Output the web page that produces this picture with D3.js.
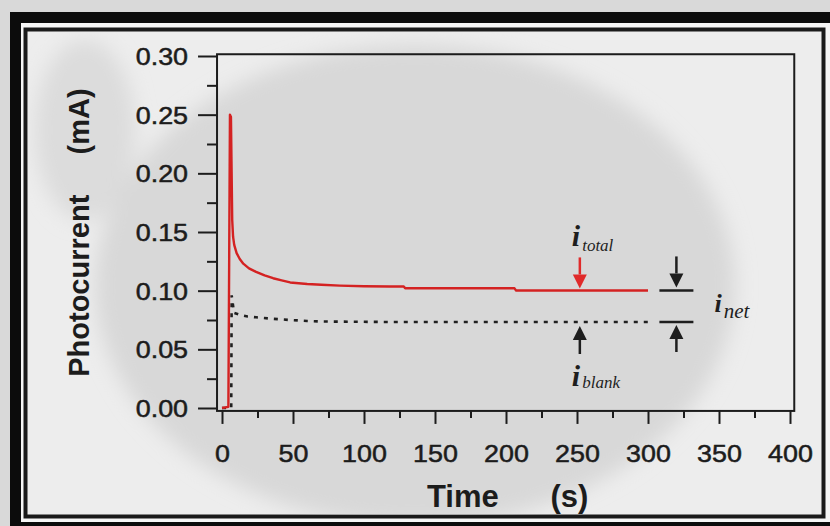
<!DOCTYPE html>
<html>
<head>
<meta charset="utf-8">
<script src="https://cdn.jsdelivr.net/npm/d3@7"></script>
<style>
  body { margin: 0; background: #d9d9d9; }
  svg { display: block; }
</style>
</head>
<body>
<div id="chart"></div>
<script>
// tick values
const xTicks = [0, 50, 100, 150, 200, 250, 300, 350, 400];
const xMinor = [25, 75, 125, 175, 225, 275, 325, 375];
const yTicks = [0, 0.05, 0.10, 0.15, 0.20, 0.25, 0.30];
const yMinor = [0.025, 0.075, 0.125, 0.175, 0.225, 0.275];

// i_total (red)
const totalT = [0, 4.5, 5.6, 6.3, 7.2, 7.8, 8.6, 10.3, 12.5, 15, 19, 24, 30, 36, 42, 48, 54, 60, 70, 83, 100, 118, 128, 129, 206, 207, 300];
const totalI = [0, 0.001, 0.25, 0.248, 0.16, 0.146, 0.139, 0.132, 0.127, 0.123, 0.119, 0.116, 0.113, 0.1106, 0.1088, 0.107, 0.1063, 0.1057, 0.105, 0.1043, 0.1038, 0.1036, 0.1036, 0.102, 0.102, 0.1002, 0.1002];

// i_blank (black dotted)
const blankT = [0, 6.5, 6.8, 8.5, 12.7, 18, 24, 36, 48, 60, 71, 95, 118, 200, 300];
const blankI = [0, 0, 0.096, 0.081, 0.0793, 0.078, 0.0773, 0.076, 0.075, 0.0742, 0.0737, 0.0735, 0.0733, 0.0733, 0.0733];

// where the annotation arrows sit
const arrowT = 252;
const netT = 320;
const netLevels = [0.1002, 0.0733];

const W = 830, H = 526;
const svg = d3.select("#chart").append("svg")
    .attr("width", W)
    .attr("height", H);

const defs = svg.append("defs");
defs.append("filter").attr("id", "soft")
    .attr("x", "-20%").attr("y", "-20%").attr("width", "140%").attr("height", "140%")
    .append("feGaussianBlur").attr("stdDeviation", 10);
defs.append("clipPath").attr("id", "panel")
    .append("rect").attr("x", 27.5).attr("y", 31.5).attr("width", 794).attr("height", 483);

// ---- frame and faded watermark ----
svg.append("rect").attr("width", W).attr("height", H).attr("fill", "#d9d9d9");
svg.append("rect").attr("x", 10).attr("y", 12).attr("width", 840).attr("height", 540).attr("fill", "#0c0c0c");
svg.append("rect").attr("x", 21).attr("y", 23).attr("width", 840).attr("height", 499).attr("fill", "#f6f6f6");
svg.append("rect").attr("x", 25.5).attr("y", 29.5).attr("width", 798).attr("height", 487)
    .attr("fill", "#ededed").attr("stroke", "#1a1a1a").attr("stroke-width", 4);

const wm = svg.append("g").attr("clip-path", "url(#panel)")
    .append("g").attr("filter", "url(#soft)");
wm.append("ellipse").attr("cx", 415).attr("cy", 285).attr("rx", 320).attr("ry", 240).attr("fill", "#d8d8d8");
wm.append("ellipse").attr("cx", 85).attr("cy", 130).attr("rx", 50).attr("ry", 90).attr("fill", "#dcdcdc");

// ---- scales ----
const x = d3.scaleLinear().domain([0, 400]).range([222, 790]);
const y = d3.scaleLinear().domain([0, 0.30]).range([408, 56]);

const boxL = x(-3.5), boxR = x(403), boxT = y(0.3015), boxB = y(-0.0025);
const ink = "#1c1c1c";
const k = 1.12; // tick labels look a little wide

// plot box
svg.append("rect")
    .attr("x", boxL).attr("y", boxT)
    .attr("width", boxR - boxL).attr("height", boxB - boxT)
    .attr("fill", "none").attr("stroke", ink).attr("stroke-width", 2);

// y axis
const yAxis = svg.append("g")
    .attr("transform", `translate(${boxL},0)`)
    .call(d3.axisLeft(y).tickValues(yTicks).tickSize(19).tickFormat(d3.format(".2f")));
svg.append("g")
    .attr("transform", `translate(${boxL},0)`)
    .call(d3.axisLeft(y).tickValues(yMinor).tickSize(10).tickFormat(""));

// x axis
const xAxis = svg.append("g")
    .attr("transform", `translate(0,${boxB})`)
    .call(d3.axisBottom(x).tickValues(xTicks).tickSize(13));
svg.append("g")
    .attr("transform", `translate(0,${boxB})`)
    .call(d3.axisBottom(x).tickValues(xMinor).tickSize(7).tickFormat(""));

svg.selectAll(".domain").remove();
svg.selectAll(".tick line").attr("stroke", ink).attr("stroke-width", 2);
svg.selectAll(".tick text")
    .attr("fill", ink)
    .attr("stroke", ink).attr("stroke-width", 0.5)
    .style("font-family", "'Liberation Sans', Arial, sans-serif")
    .style("font-size", "24px");

yAxis.selectAll(".tick text")
    .attr("x", -29 / k).attr("dy", "0.35em")
    .attr("transform", `scale(${k},1)`);
xAxis.selectAll(".tick text")
    .attr("y", 51).attr("dy", 0)
    .attr("transform", `scale(${k},1)`);

// axis titles
svg.append("text")
    .attr("x", (boxL + boxR) / 2 + 2).attr("y", 507)
    .attr("text-anchor", "middle")
    .style("white-space", "pre")
    .style("font-family", "'Liberation Sans', Arial, sans-serif")
    .style("font-size", "31px").style("font-weight", "bold")
    .attr("fill", ink)
    .text("Time      (s)");

svg.append("text")
    .attr("transform", `translate(89,${(boxT + boxB) / 2}) rotate(-90)`)
    .attr("text-anchor", "middle")
    .style("white-space", "pre")
    .style("font-family", "'Liberation Sans', Arial, sans-serif")
    .style("font-size", "29px").style("font-weight", "bold")
    .attr("fill", ink)
    .text("Photocurrent     (mA)");

// ---- curves ----
const line = d3.line().x(d => x(d[0])).y(d => y(d[1]));

svg.append("path")
    .datum(blankT.map((t, i) => [t, blankI[i]]))
    .attr("d", line)
    .attr("fill", "none").attr("stroke", "#202020")
    .attr("stroke-width", 2.6).attr("stroke-dasharray", "4 6");

svg.append("path")
    .datum(totalT.map((t, i) => [t, totalI[i]]))
    .attr("d", line)
    .attr("fill", "none").attr("stroke", "#d42222")
    .attr("stroke-width", 2.4).attr("stroke-linejoin", "round");

// ---- annotations ----
function arrow(cx, tipY, tailY, color) {
    const dir = tailY < tipY ? 1 : -1;
    const headLen = 14, headW = 7;
    svg.append("line")
        .attr("x1", cx).attr("x2", cx)
        .attr("y1", tailY).attr("y2", tipY - dir * headLen)
        .attr("stroke", color).attr("stroke-width", 2.5);
    svg.append("path")
        .attr("d", `M${cx},${tipY} L${cx - headW},${tipY - dir * headLen} L${cx + headW},${tipY - dir * headLen} Z`)
        .attr("fill", color);
}

const ax = x(arrowT);
arrow(ax, y(netLevels[0]) - 2, y(netLevels[0]) - 33, "#e02a2a");
arrow(ax, y(netLevels[1]) + 4, y(netLevels[1]) + 32, "#1e1e1e");

const nx = x(netT);
netLevels.forEach(v => {
    svg.append("line")
        .attr("x1", nx - 17).attr("x2", nx + 17)
        .attr("y1", y(v)).attr("y2", y(v))
        .attr("stroke", "#1e1e1e").attr("stroke-width", 2.5);
});
arrow(nx, y(netLevels[0]) - 3, y(netLevels[0]) - 34, "#1e1e1e");
arrow(nx, y(netLevels[1]) + 3, y(netLevels[1]) + 30, "#1e1e1e");

function iLabel(px, py, sub, mainSize, subSize, subDy) {
    const t = svg.append("text")
        .attr("x", px).attr("y", py)
        .attr("fill", "#1e1e1e")
        .style("font-family", "'Liberation Serif', 'Times New Roman', serif")
        .style("font-style", "italic");
    t.append("tspan").style("font-weight", "bold").style("font-size", mainSize + "px").text("i");
    t.append("tspan").attr("dx", 2).attr("dy", subDy).style("font-size", subSize + "px").text(sub);
}
iLabel(ax - 8, y(netLevels[0]) - 44, "total", 30, 17, 5);
iLabel(ax - 8, y(netLevels[1]) + 64, "blank", 30, 17, 2);
iLabel(nx + 38, y((netLevels[0] + netLevels[1]) / 2) + 6, "net", 26, 21, 6);
</script>
</body>
</html>
